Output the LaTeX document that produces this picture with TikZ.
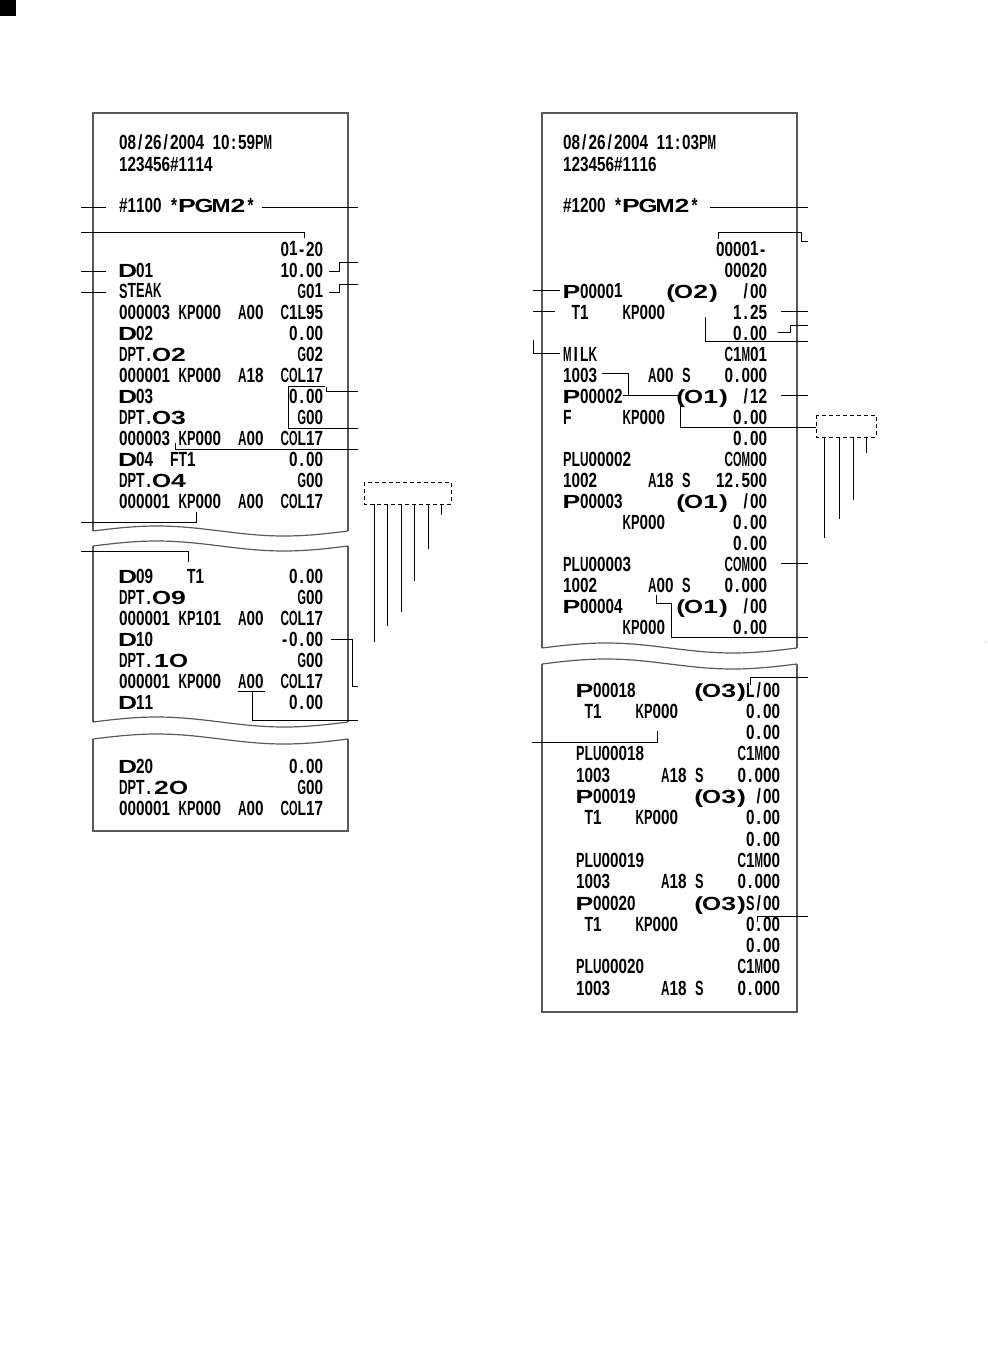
\documentclass[tikz,border=0pt]{standalone}
\usepackage{fontspec}
\usepackage{graphicx}
\newfontfamily\rfont[FakeStretch=0.76]{Liberation Sans}
\newfontfamily\wfont[FakeStretch=1.4]{Liberation Sans}
\newlength\cw
\setlength\cw{8.5pt}
\newlength\wcw
\setlength\wcw{17pt}
\newlength\wlim
\setlength\wlim{19pt}
\newsavebox\chbox
\newcommand\fitin[3]{\sbox\chbox{#3}\ifdim\wd\chbox>#2\relax\makebox[#1][c]{\resizebox{#2}{\ht\chbox}{\usebox\chbox}}\else\makebox[#1][c]{\usebox\chbox}\fi}
\makeatletter
\newcommand\mono[1]{{\rfont\bfseries\fontsize{20.5pt}{20.5pt}\selectfont\@tfor\@ch:=#1\do{\fitin{\cw}{\cw}{\@ch}}}}
\newcommand\wide[1]{{\wfont\bfseries\fontsize{19pt}{19pt}\selectfont\@tfor\@wc:=#1\do{\fitin{\wcw}{\wlim}{\@wc}}}}
\newcommand\wtxt[1]{{\wfont\bfseries\fontsize{19pt}{19pt}\selectfont #1}}
\makeatother
\newcommand\pgrp[1]{\wtxt{(}\wide{#1}\wtxt{)}}
\begin{document}
\begin{tikzpicture}[x=1pt,y=-1pt,
  rt/.style={inner sep=0pt, outer sep=0pt},
  cl/.style={line width=0.9pt, black},
  edgeline/.style={line width=1.2pt, black!65},
  dbox/.style={line width=0.9pt, dash pattern=on 4pt off 3pt}]
\useasboundingbox (0,0) rectangle (987,1372);
\fill (0,0) rectangle (16,16);
\fill[black!40] (986,642) circle (0.7);

% ---------- left receipt outlines ----------
\draw[edgeline] (93,531) -- (93,113) -- (348,113) -- (348,531);
\draw[edgeline] plot[domain=0:1,samples=50] ({93+255*\x},{531-5*sin(360*\x)});
\draw[edgeline] plot[domain=0:1,samples=50] ({93+255*\x},{546-5*sin(360*\x)});
\draw[edgeline] (93,546) -- (93,722);
\draw[edgeline] (348,546) -- (348,722);
\draw[edgeline] plot[domain=0:1,samples=50] ({93+255*\x},{722-5*sin(360*\x)});
\draw[edgeline] plot[domain=0:1,samples=50] ({93+255*\x},{739-5*sin(360*\x)});
\draw[edgeline] (93,739) -- (93,831) -- (348,831) -- (348,739);

% ---------- right receipt outlines ----------
\draw[edgeline] (542,648) -- (542,113) -- (797,113) -- (797,648);
\draw[edgeline] plot[domain=0:1,samples=50] ({542+255*\x},{648-5*sin(360*\x)});
\draw[edgeline] plot[domain=0:1,samples=50] ({542+255*\x},{664-5*sin(360*\x)});
\draw[edgeline] (542,664) -- (542,1012) -- (797,1012) -- (797,664);

% ---------- left receipt text ----------
\node[rt,anchor=base west] (la1) at (119,150) {\mono{08/26/2004~10:59PM}};
\node[rt,anchor=base west] (la2) at (119,172) {\mono{123456\#1114}};
\node[rt,anchor=base west] (la3) at (119,213) {\mono{\#1100~*}\wide{PGM2}\mono{*}};
\node[rt,anchor=base east] (lb0) at (323,256) {\mono{01-20}};
\node[rt,anchor=base west] (lc1) at (119,277) {\wide{D}\mono{01}};
\node[rt,anchor=base east] (lb1) at (323,277) {\mono{10.00}};
\node[rt,anchor=base west] (lc2) at (119,298) {\mono{STEAK}};
\node[rt,anchor=base east] (lb2) at (323,298) {\mono{G01}};
\node[rt,anchor=base west] (lc3) at (119,319) {\mono{000003~KP000~~A00~~C1L95}};
\node[rt,anchor=base west] (lc4) at (119,340) {\wide{D}\mono{02}};
\node[rt,anchor=base east] (lb4) at (323,340) {\mono{0.00}};
\node[rt,anchor=base west] (lc5) at (119,361) {\mono{DPT.}\wide{O2}};
\node[rt,anchor=base east] (lb5) at (323,361) {\mono{G02}};
\node[rt,anchor=base west] (lc6) at (119,382) {\mono{000001~KP000~~A18~~COL17}};
\node[rt,anchor=base west] (lc7) at (119,403) {\wide{D}\mono{03}};
\node[rt,anchor=base east] (lb7) at (323,403) {\mono{0.00}};
\node[rt,anchor=base west] (lc8) at (119,424) {\mono{DPT.}\wide{O3}};
\node[rt,anchor=base east] (lb8) at (323,424) {\mono{G00}};
\node[rt,anchor=base west] (lc9) at (119,445) {\mono{000003~KP000~~A00~~COL17}};
\node[rt,anchor=base west] (lc10) at (119,466) {\wide{D}\mono{04~~FT1}};
\node[rt,anchor=base east] (lb10) at (323,466) {\mono{0.00}};
\node[rt,anchor=base west] (lc11) at (119,487) {\mono{DPT.}\wide{O4}};
\node[rt,anchor=base east] (lb11) at (323,487) {\mono{G00}};
\node[rt,anchor=base west] (lc12) at (119,508) {\mono{000001~KP000~~A00~~COL17}};

\node[rt,anchor=base west] (ld0) at (119,583) {\wide{D}\mono{09~~~~T1}};
\node[rt,anchor=base east] (le0) at (323,583) {\mono{0.00}};
\node[rt,anchor=base west] (ld1) at (119,604) {\mono{DPT.}\wide{O9}};
\node[rt,anchor=base east] (le1) at (323,604) {\mono{G00}};
\node[rt,anchor=base west] (ld2) at (119,625) {\mono{000001~KP101~~A00~~COL17}};
\node[rt,anchor=base west] (ld3) at (119,646) {\wide{D}\mono{10}};
\node[rt,anchor=base east] (le3) at (323,646) {\mono{-0.00}};
\node[rt,anchor=base west] (ld4) at (119,667) {\mono{DPT.}\wide{1O}};
\node[rt,anchor=base east] (le4) at (323,667) {\mono{G00}};
\node[rt,anchor=base west] (ld5) at (119,688) {\mono{000001~KP000~~A00~~COL17}};
\node[rt,anchor=base west] (ld6) at (119,709) {\wide{D}\mono{11}};
\node[rt,anchor=base east] (le6) at (323,709) {\mono{0.00}};

\node[rt,anchor=base west] (lf0) at (119,773) {\wide{D}\mono{20}};
\node[rt,anchor=base east] (lg0) at (323,773) {\mono{0.00}};
\node[rt,anchor=base west] (lf1) at (119,794) {\mono{DPT.}\wide{2O}};
\node[rt,anchor=base east] (lg1) at (323,794) {\mono{G00}};
\node[rt,anchor=base west] (lf2) at (119,815) {\mono{000001~KP000~~A00~~COL17}};

% ---------- right receipt text ----------
\node[rt,anchor=base west] (ra1) at (563,150) {\mono{08/26/2004~11:03PM}};
\node[rt,anchor=base west] (ra2) at (563,172) {\mono{123456\#1116}};
\node[rt,anchor=base west] (ra3) at (563,213) {\mono{\#1200~*}\wide{PGM2}\mono{*}};
\node[rt,anchor=base east] (rb0) at (767,256) {\mono{00001-}};
\node[rt,anchor=base east] (rb1) at (767,277) {\mono{00020}};
\node[rt,anchor=base west] (rc2) at (563,298) {\wide{P}\mono{00001}};
\node[rt,anchor=base east] (rp2) at (718,298) {\pgrp{O2}};
\node[rt,anchor=base east] (rb2) at (767,298) {\mono{/00}};
\node[rt,anchor=base west] (rc3) at (563,319) {\mono{~T1~~~~KP000}};
\node[rt,anchor=base east] (rb3) at (767,319) {\mono{1.25}};
\node[rt,anchor=base east] (rb4) at (767,340) {\mono{0.00}};
\node[rt,anchor=base west] (rc5) at (563,361) {\mono{MILK}};
\node[rt,anchor=base east] (rb5) at (767,361) {\mono{C1M01}};
\node[rt,anchor=base west] (rc6) at (563,382) {\mono{1003~~~~~~A00~S}};
\node[rt,anchor=base east] (rb6) at (767,382) {\mono{0.000}};
\node[rt,anchor=base west] (rc7) at (563,403) {\wide{P}\mono{00002}};
\node[rt,anchor=base east] (rp7) at (728,403) {\pgrp{O1}};
\node[rt,anchor=base east] (rb7) at (767,403) {\mono{/12}};
\node[rt,anchor=base west] (rc8) at (563,424) {\mono{F~~~~~~KP000}};
\node[rt,anchor=base east] (rb8) at (767,424) {\mono{0.00}};
\node[rt,anchor=base east] (rb9) at (767,445) {\mono{0.00}};
\node[rt,anchor=base west] (rc10) at (563,466) {\mono{PLU00002}};
\node[rt,anchor=base east] (rb10) at (767,466) {\mono{COM00}};
\node[rt,anchor=base west] (rc11) at (563,487) {\mono{1002~~~~~~A18~S}};
\node[rt,anchor=base east] (rb11) at (767,487) {\mono{12.500}};
\node[rt,anchor=base west] (rc12) at (563,508) {\wide{P}\mono{00003}};
\node[rt,anchor=base east] (rp12) at (728,508) {\pgrp{O1}};
\node[rt,anchor=base east] (rb12) at (767,508) {\mono{/00}};
\node[rt,anchor=base west] (rc13) at (622.5,529) {\mono{KP000}};
\node[rt,anchor=base east] (rb13) at (767,529) {\mono{0.00}};
\node[rt,anchor=base east] (rb14) at (767,550) {\mono{0.00}};
\node[rt,anchor=base west] (rc15) at (563,571) {\mono{PLU00003}};
\node[rt,anchor=base east] (rb15) at (767,571) {\mono{COM00}};
\node[rt,anchor=base west] (rc16) at (563,592) {\mono{1002~~~~~~A00~S}};
\node[rt,anchor=base east] (rb16) at (767,592) {\mono{0.000}};
\node[rt,anchor=base west] (rc17) at (563,613) {\wide{P}\mono{00004}};
\node[rt,anchor=base east] (rp17) at (728,613) {\pgrp{O1}};
\node[rt,anchor=base east] (rb17) at (767,613) {\mono{/00}};
\node[rt,anchor=base west] (rc18) at (622.5,634) {\mono{KP000}};
\node[rt,anchor=base east] (rb18) at (767,634) {\mono{0.00}};

% right receipt, second piece
\node[rt,anchor=base west] (rd0) at (576,697) {\wide{P}\mono{00018}};
\node[rt,anchor=base east] (rq0) at (746,697) {\pgrp{O3}};
\node[rt,anchor=base east] (re0) at (780,697) {\mono{L/00}};
\node[rt,anchor=base west] (rd1) at (576,718.3) {\mono{~T1~~~~KP000}};
\node[rt,anchor=base east] (re1) at (780,718.3) {\mono{0.00}};
\node[rt,anchor=base east] (re2) at (780,739.6) {\mono{0.00}};
\node[rt,anchor=base west] (rd3) at (576,760.9) {\mono{PLU00018}};
\node[rt,anchor=base east] (re3) at (780,760.9) {\mono{C1M00}};
\node[rt,anchor=base west] (rd4) at (576,782.2) {\mono{1003~~~~~~A18~S}};
\node[rt,anchor=base east] (re4) at (780,782.2) {\mono{0.000}};
\node[rt,anchor=base west] (rd5) at (576,803.5) {\wide{P}\mono{00019}};
\node[rt,anchor=base east] (rq5) at (746,803.5) {\pgrp{O3}};
\node[rt,anchor=base east] (re5) at (780,803.5) {\mono{/00}};
\node[rt,anchor=base west] (rd6) at (576,824.8) {\mono{~T1~~~~KP000}};
\node[rt,anchor=base east] (re6) at (780,824.8) {\mono{0.00}};
\node[rt,anchor=base east] (re7) at (780,846.1) {\mono{0.00}};
\node[rt,anchor=base west] (rd8) at (576,867.4) {\mono{PLU00019}};
\node[rt,anchor=base east] (re8) at (780,867.4) {\mono{C1M00}};
\node[rt,anchor=base west] (rd9) at (576,888.7) {\mono{1003~~~~~~A18~S}};
\node[rt,anchor=base east] (re9) at (780,888.7) {\mono{0.000}};
\node[rt,anchor=base west] (rd10) at (576,910) {\wide{P}\mono{00020}};
\node[rt,anchor=base east] (rq10) at (746,910) {\pgrp{O3}};
\node[rt,anchor=base east] (re10) at (780,910) {\mono{S/00}};
\node[rt,anchor=base west] (rd11) at (576,931.3) {\mono{~T1~~~~KP000}};
\node[rt,anchor=base east] (re11) at (780,931.3) {\mono{0.00}};
\node[rt,anchor=base east] (re12) at (780,952.6) {\mono{0.00}};
\node[rt,anchor=base west] (rd13) at (576,973.9) {\mono{PLU00020}};
\node[rt,anchor=base east] (re13) at (780,973.9) {\mono{C1M00}};
\node[rt,anchor=base west] (rd14) at (576,995.2) {\mono{1003~~~~~~A18~S}};
\node[rt,anchor=base east] (re14) at (780,995.2) {\mono{0.000}};

% ---------- left receipt callouts ----------
\draw[cl] (81,207) -- (106,207);
\draw[cl] (81,232) -- (304,232) -- (304,238);
\draw[cl] (81,271) -- (106,271);
\draw[cl] (81,292) -- (106,292);
\draw[cl] (81,522) -- (196,522) -- (196,512);
\draw[cl] (81,551) -- (188,551) -- (188,562);
\draw[cl] (262,207) -- (358,207);
\draw[cl] (329,271) -- (339,271) -- (339,262) -- (358,262);
\draw[cl] (329,292) -- (339,292) -- (339,284) -- (358,284);
\draw[cl] (358,428) -- (288,428) -- (288,386.5) -- (325,386.5);
\draw[cl] (326,386.5) -- (326,391) -- (358,391);
\draw[cl] (175,443) -- (175,449) -- (358,449);
\draw[cl] (331,639) -- (352,639) -- (352,686) -- (358,686);
\draw[cl] (238,691) -- (265,691);
\draw[cl] (252,691) -- (252,720) -- (358,720);
\draw[dbox] (364,482) rectangle (451,504);
\draw[cl] (374,504) -- (374,642);
\draw[cl] (387.5,504) -- (387.5,626);
\draw[cl] (401,504) -- (401,612);
\draw[cl] (414.5,504) -- (414.5,581);
\draw[cl] (428,504) -- (428,549);
\draw[cl] (441.5,504) -- (441.5,515);

% ---------- right receipt callouts ----------
\draw[cl] (710,207) -- (808,207);
\draw[cl] (718,239) -- (718,232) -- (801,232) -- (801,241) -- (808,241);
\draw[cl] (533,290) -- (560,290);
\draw[cl] (533,311) -- (555,311);
\draw[cl] (781,311) -- (808,311);
\draw[cl] (778,332) -- (790,332) -- (790,325) -- (808,325);
\draw[cl] (705,317) -- (705,341) -- (808,341);
\draw[cl] (533,340) -- (533,353) -- (560,353);
\draw[cl] (602,373) -- (628,373) -- (628,395);
\draw[cl] (623,395) -- (680,395) -- (680,427) -- (816,427);
\draw[cl] (781,395) -- (808,395);
\draw[dbox] (816,415) rectangle (876,437);
\draw[cl] (824.5,437) -- (824.5,538);
\draw[cl] (839,437) -- (839,519);
\draw[cl] (853,437) -- (853,500);
\draw[cl] (866.5,437) -- (866.5,453);
\draw[cl] (781,563) -- (808,563);
\draw[cl] (656,595) -- (656,603) -- (671,603) -- (671,637) -- (808,637);
\draw[cl] (750,685) -- (750,677) -- (808,677);
\draw[cl] (532,742) -- (657,742) -- (657,731);
\draw[cl] (757,922) -- (757,916) -- (808,916);
\end{tikzpicture}
\end{document}
